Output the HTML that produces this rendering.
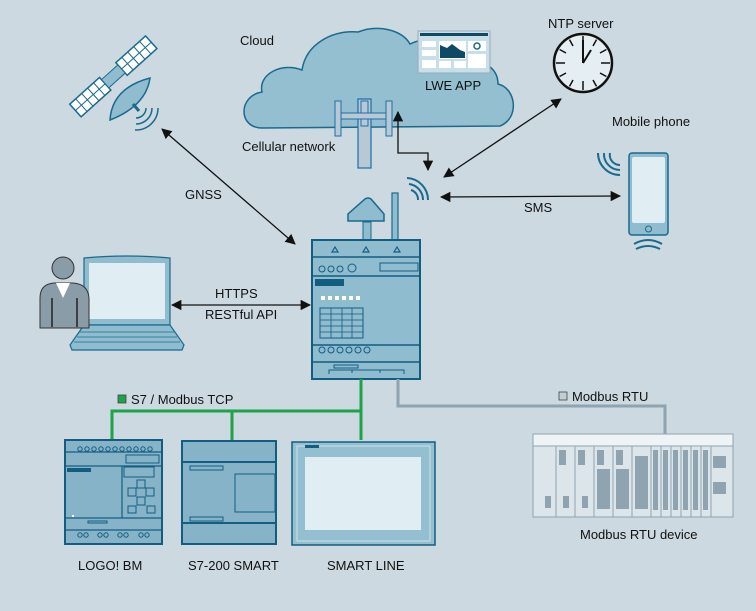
<!DOCTYPE html>
<html><head><meta charset="utf-8"><style>
html,body{margin:0;padding:0;background:#ccd9e0;}
svg{display:block;font-family:"Liberation Sans",sans-serif;}
</style></head><body>
<svg width="756" height="611" viewBox="0 0 756 611" xmlns="http://www.w3.org/2000/svg">
<defs>
<marker id="ah" viewBox="0 0 10 10" refX="9" refY="5" markerWidth="8" markerHeight="8" orient="auto-start-reverse"><path d="M0,0 L10,5 L0,10 z" fill="#111"/></marker>
</defs>
<rect width="756" height="611" fill="#ccd9e0"/>

<!-- Cloud -->
<path d="M262,128 C238,128 238,96 262,92 C258,74 282,62 302,70 C306,44 332,30 358,32 C378,24 402,30 410,44 C430,34 460,40 470,60 C480,60 498,66 498,84 C516,88 520,118 500,126 Z" fill="#93bfd0" stroke="#1a6a8e" stroke-width="1.5"/>
<text x="240" y="45" font-size="13" fill="#111">Cloud</text>
<rect x="418" y="31" width="72" height="42" fill="#c9dfe8" stroke="#9ab" stroke-width="1"/>
<rect x="420" y="33" width="68" height="3" fill="#0e4a66"/>
<rect x="439" y="41" width="27" height="18" fill="#fff"/>
<path d="M440,58 L440,45 L447,48 L452,44 L460,50 L465,52 L465,58 Z" fill="#0e4a66"/>
<rect x="422" y="41" width="14" height="6" fill="#fff"/><rect x="422" y="50" width="14" height="6" fill="#fff"/><rect x="422" y="60" width="14" height="8" fill="#fff"/>
<rect x="468" y="41" width="18" height="10" fill="#fff"/><circle cx="477" cy="46" r="3" fill="none" stroke="#1a6a8e" stroke-width="1.5"/>
<rect x="468" y="54" width="18" height="14" fill="#fff"/>
<rect x="439" y="61" width="12" height="7" fill="#fff"/><rect x="454" y="61" width="12" height="7" fill="#fff"/>
<text x="425" y="90" font-size="13" fill="#111">LWE APP</text>
<rect x="358" y="99" width="13" height="69" fill="#b8c8d4" stroke="#1a6fa8" stroke-width="1.2"/>
<rect x="361" y="101" width="7" height="25" fill="#b8c8d4" stroke="#1a6fa8"/>
<rect x="340" y="113" width="48" height="6" fill="#b8c8d4" stroke="#1a6fa8"/>
<rect x="335" y="101" width="6" height="35" fill="#b8c8d4" stroke="#1a6fa8"/>
<rect x="386" y="101" width="6" height="35" fill="#b8c8d4" stroke="#1a6fa8"/>
<text x="242" y="151" font-size="13" fill="#111">Cellular network</text>
<path d="M398,112 L398,153 L428,153 L428,170" fill="none" stroke="#111" stroke-width="1.3" marker-start="url(#ah)" marker-end="url(#ah)"/>
<g fill="none" stroke="#1a6a8e" stroke-width="2">
<path d="M407,178 A22,22 0 0 1 428,200"/><path d="M409,184 A16,16 0 0 1 423,200"/><path d="M411,190 A10,10 0 0 1 418,200"/>
</g>

<text x="548" y="28" font-size="13" fill="#111">NTP server</text>
<circle cx="583" cy="63" r="29" fill="#e4eef3" stroke="#111" stroke-width="2.5"/>
<g stroke="#111" stroke-width="1.5">
<line x1="583" y1="36" x2="583" y2="45"/><line x1="583" y1="81" x2="583" y2="90"/><line x1="556" y1="63" x2="565" y2="63"/><line x1="601" y1="63" x2="610" y2="63"/>
<line x1="596.5" y1="39.6" x2="593" y2="46"/><line x1="606.4" y1="49.5" x2="600" y2="53"/><line x1="606.4" y1="76.5" x2="600" y2="73"/><line x1="596.5" y1="86.4" x2="593" y2="80"/>
<line x1="569.5" y1="86.4" x2="573" y2="80"/><line x1="559.6" y1="76.5" x2="566" y2="73"/><line x1="559.6" y1="49.5" x2="566" y2="53"/><line x1="569.5" y1="39.6" x2="573" y2="46"/>
</g>
<line x1="583" y1="63" x2="583" y2="40" stroke="#111" stroke-width="2"/>
<line x1="583" y1="63" x2="591" y2="50" stroke="#111" stroke-width="2"/>
<line x1="444" y1="177" x2="561" y2="99" stroke="#111" stroke-width="1.3" marker-start="url(#ah)" marker-end="url(#ah)"/>

<text x="612" y="126" font-size="13" fill="#111">Mobile phone</text>
<rect x="629" y="153" width="39" height="82" rx="3" fill="#8fbccf" stroke="#1a6a8e" stroke-width="1.5"/>
<rect x="632" y="157" width="33" height="66" rx="2" fill="#e0edf2"/>
<circle cx="648.5" cy="229" r="3" fill="none" stroke="#1a6a8e"/>
<g fill="none" stroke="#1a6a8e" stroke-width="2">
<path d="M620,175 A22,22 0 0 1 598,153"/><path d="M620,170 A16,16 0 0 1 604,153"/><path d="M620,165 A10,10 0 0 1 610,153"/>
<path d="M634,244 Q648,236 662,244"/><path d="M636,249 Q648,243 660,249"/>
</g>
<line x1="441" y1="197" x2="620" y2="196" stroke="#111" stroke-width="1.3" marker-start="url(#ah)" marker-end="url(#ah)"/>
<text x="524" y="212" font-size="13" fill="#111">SMS</text>

<!-- Satellite -->
<g transform="rotate(-42 113 76)">
<rect x="62" y="68" width="40" height="17" fill="#fff" stroke="#1a6a8e" stroke-width="1.5"/>
<rect x="124" y="68" width="40" height="17" fill="#fff" stroke="#1a6a8e" stroke-width="1.5"/>
<g stroke="#1a6a8e" stroke-width="1"><line x1="62" y1="76.5" x2="102" y2="76.5"/><line x1="124" y1="76.5" x2="164" y2="76.5"/>
<line x1="70" y1="68" x2="70" y2="85"/><line x1="78" y1="68" x2="78" y2="85"/><line x1="86" y1="68" x2="86" y2="85"/><line x1="94" y1="68" x2="94" y2="85"/>
<line x1="132" y1="68" x2="132" y2="85"/><line x1="140" y1="68" x2="140" y2="85"/><line x1="148" y1="68" x2="148" y2="85"/><line x1="156" y1="68" x2="156" y2="85"/></g>
<rect x="102" y="71" width="22" height="11" fill="#8fbccf" stroke="#1a6a8e"/>
</g>
<path d="M110,120 Q112,88 150,78 Q146,106 110,120 Z" fill="#8fbccf" stroke="#1a6a8e" stroke-width="1.5"/>
<line x1="133" y1="104" x2="139" y2="111" stroke="#1a6a8e" stroke-width="3"/>
<g fill="none" stroke="#1a6a8e" stroke-width="1.5">
<path d="M136,118 A10,10 0 0 0 146,108"/><path d="M136,124 A16,16 0 0 0 152,108"/><path d="M135,130 A22,22 0 0 0 158,108"/>
</g>
<line x1="162" y1="129" x2="295" y2="244" stroke="#111" stroke-width="1.3" marker-start="url(#ah)" marker-end="url(#ah)"/>
<text x="185" y="199" font-size="13" fill="#111">GNSS</text>

<path d="M84,258 Q127,254 170,258 L170,325 L84,325 Z" fill="#8fbccf" stroke="#1a6a8e" stroke-width="1.2"/>
<rect x="89" y="263" width="76" height="56" fill="#e0edf2"/>
<path d="M84,325 L170,325 L184,345 L182,350 L72,350 L70,345 Z" fill="#8fbccf" stroke="#1a6a8e" stroke-width="1.2"/>
<g stroke="#1a6a8e" stroke-width="0.8"><line x1="80" y1="332" x2="174" y2="332"/><line x1="77" y1="337" x2="177" y2="337"/><line x1="74" y1="342" x2="180" y2="342"/></g>
<circle cx="63" cy="268" r="11" fill="#8a9ca8" stroke="#333" stroke-width="1"/>
<path d="M40,328 L40,298 Q40,284 54,283 L73,283 Q88,284 89,298 L89,328 Z" fill="#8a9ca8" stroke="#333" stroke-width="1"/>
<path d="M56,283 L63,298 L70,283 Z" fill="#fff"/>
<g stroke="#222" stroke-width="1.5"><line x1="52" y1="298" x2="52" y2="327"/><line x1="77" y1="298" x2="77" y2="327"/></g>
<line x1="172" y1="305" x2="310" y2="305" stroke="#111" stroke-width="1.3" marker-start="url(#ah)" marker-end="url(#ah)"/>
<text x="215" y="298" font-size="13" fill="#111">HTTPS</text>
<text x="205" y="319" font-size="13" fill="#111">RESTful API</text>

<rect x="392" y="193" width="6" height="47" fill="#8fbccf" stroke="#1a6a8e" stroke-width="1.2"/>
<path d="M348,221 L348,214 L365,199 Q368,197 371,199 L384,214 L384,221 Z" fill="#8fbccf" stroke="#1a6a8e" stroke-width="1.5"/>
<rect x="363" y="222" width="8" height="18" fill="#8fbccf" stroke="#1a6a8e"/>
<rect x="312" y="240" width="108" height="139" fill="#8fbccf" stroke="#135d80" stroke-width="2"/>
<g stroke="#135d80" stroke-width="1.5"><line x1="312" y1="257" x2="420" y2="257"/><line x1="312" y1="276" x2="420" y2="276"/><line x1="312" y1="345" x2="420" y2="345"/><line x1="312" y1="362" x2="420" y2="362"/></g>
<g fill="none" stroke="#135d80" stroke-width="1.2"><path d="M332,252 l3,-5 l3,5 z"/><path d="M363,252 l3,-5 l3,5 z"/><path d="M394,252 l3,-5 l3,5 z"/></g>
<g fill="#8fbccf" stroke="#135d80" stroke-width="1"><circle cx="322" cy="269" r="3"/><circle cx="331" cy="269" r="3"/><circle cx="340" cy="269" r="3"/><circle cx="352" cy="268" r="4"/>
<circle cx="322" cy="350" r="3"/><circle cx="331" cy="350" r="3"/><circle cx="340" cy="350" r="3"/><circle cx="349" cy="350" r="3"/><circle cx="358" cy="350" r="3"/><circle cx="367" cy="350" r="3"/></g>
<rect x="380" y="263" width="38" height="8" fill="none" stroke="#135d80"/>
<rect x="315" y="279" width="29" height="7" fill="#135d80"/>
<g fill="#fff"><rect x="321" y="296" width="4" height="4"/><rect x="328" y="296" width="4" height="4"/><rect x="335" y="296" width="4" height="4"/><rect x="342" y="296" width="4" height="4"/><rect x="349" y="296" width="4" height="4"/><rect x="356" y="296" width="4" height="4"/></g>
<rect x="320" y="308" width="43" height="30" fill="none" stroke="#135d80"/>
<g stroke="#135d80" stroke-width="0.8"><line x1="331" y1="308" x2="331" y2="338"/><line x1="342" y1="308" x2="342" y2="338"/><line x1="352" y1="308" x2="352" y2="338"/>
<line x1="320" y1="314" x2="363" y2="314"/><line x1="320" y1="320" x2="363" y2="320"/><line x1="320" y1="326" x2="363" y2="326"/><line x1="320" y1="332" x2="363" y2="332"/></g>
<rect x="334" y="365" width="24" height="3" fill="none" stroke="#135d80"/>
<path d="M329,374 L329,370 L404,370 L404,374 M352,370 L352,373 M380,370 L380,373" fill="none" stroke="#135d80"/>

<path d="M361,379 L361,440 M112,440 L112,411 L361,411 M232,411 L232,440" fill="none" stroke="#1ea34a" stroke-width="3"/>
<rect x="118" y="395" width="8" height="8" fill="#1ea34a" stroke="#444" stroke-width="0.8"/>
<text x="131" y="404" font-size="13" fill="#111">S7 / Modbus TCP</text>
<path d="M398,379 L398,406 L665,406 L665,434" fill="none" stroke="#8fa4b0" stroke-width="3"/>
<rect x="559" y="392" width="8" height="8" fill="#bfcdd5" stroke="#444" stroke-width="0.8"/>
<text x="572" y="401" font-size="13" fill="#111">Modbus RTU</text>

<rect x="533" y="434" width="200" height="83" fill="#dbe5ea" stroke="#8fa4b0" stroke-width="1"/>
<rect x="533" y="434" width="200" height="12" fill="#eef3f5" stroke="#8fa4b0"/>
<g stroke="#8fa4b0" stroke-width="1"><line x1="556" y1="446" x2="556" y2="517"/><line x1="575" y1="446" x2="575" y2="517"/><line x1="594" y1="446" x2="594" y2="517"/><line x1="613" y1="446" x2="613" y2="517"/><line x1="632" y1="446" x2="632" y2="517"/><line x1="651" y1="446" x2="651" y2="517"/><line x1="661" y1="446" x2="661" y2="517"/><line x1="671" y1="446" x2="671" y2="517"/><line x1="681" y1="446" x2="681" y2="517"/><line x1="691" y1="446" x2="691" y2="517"/><line x1="701" y1="446" x2="701" y2="517"/><line x1="711" y1="446" x2="711" y2="517"/></g>
<g fill="#8fa4b0">
<rect x="545" y="496" width="6" height="12"/><rect x="563" y="496" width="6" height="12"/><rect x="582" y="496" width="6" height="12"/>
<rect x="559" y="450" width="7" height="15"/><rect x="578" y="450" width="7" height="15"/><rect x="597" y="450" width="7" height="15"/><rect x="616" y="450" width="7" height="15"/>
<rect x="597" y="469" width="13" height="40"/><rect x="616" y="469" width="13" height="40"/><rect x="635" y="456" width="13" height="53"/>
<rect x="653" y="450" width="5" height="60"/><rect x="663" y="450" width="5" height="60"/><rect x="673" y="450" width="5" height="60"/><rect x="683" y="450" width="5" height="60"/><rect x="693" y="450" width="5" height="60"/><rect x="703" y="450" width="5" height="60"/>
<rect x="713" y="456" width="13" height="12"/><rect x="713" y="482" width="13" height="12"/>
</g>
<text x="580" y="539" font-size="13" fill="#111">Modbus RTU device</text>

<rect x="65" y="440" width="97" height="104" fill="#87b3c9" stroke="#135d80" stroke-width="2"/>
<g stroke="#135d80" stroke-width="1.2"><line x1="65" y1="452" x2="162" y2="452"/><line x1="65" y1="466" x2="162" y2="466"/><line x1="65" y1="518" x2="162" y2="518"/><line x1="65" y1="530" x2="162" y2="530"/><line x1="122" y1="466" x2="122" y2="518"/></g>
<rect x="126" y="455" width="33" height="8" fill="none" stroke="#135d80"/>
<rect x="67" y="468" width="24" height="4" fill="#135d80"/>
<rect x="124" y="467" width="30" height="10" fill="none" stroke="#135d80"/>
<g fill="#87b3c9" stroke="#135d80"><rect x="137" y="480" width="8" height="8"/><rect x="128" y="488" width="8" height="8"/><rect x="146" y="488" width="8" height="8"/><rect x="137" y="497" width="8" height="8"/><rect x="128" y="506" width="8" height="7"/><rect x="147" y="506" width="8" height="7"/></g>
<rect x="88" y="521" width="19" height="2" fill="none" stroke="#135d80"/>
<rect x="72" y="515" width="2" height="2" fill="#fff"/>
<g fill="none" stroke="#135d80"><circle cx="80" cy="449" r="2.2"/><circle cx="87" cy="449" r="2.2"/><circle cx="94" cy="449" r="2.2"/><circle cx="101" cy="449" r="2.2"/><circle cx="108" cy="449" r="2.2"/><circle cx="115" cy="449" r="2.2"/><circle cx="122" cy="449" r="2.2"/><circle cx="129" cy="449" r="2.2"/><circle cx="136" cy="449" r="2.2"/><circle cx="143" cy="449" r="2.2"/><circle cx="150" cy="449" r="2.2"/>
<circle cx="80" cy="535" r="2.2"/><circle cx="86" cy="535" r="2.2"/><circle cx="100" cy="535" r="2.2"/><circle cx="106" cy="535" r="2.2"/><circle cx="120" cy="535" r="2.2"/><circle cx="126" cy="535" r="2.2"/><circle cx="141" cy="535" r="2.2"/><circle cx="147" cy="535" r="2.2"/></g>
<text x="78" y="570" font-size="13" fill="#111">LOGO! BM</text>

<rect x="182" y="441" width="94" height="103" fill="#87b3c9" stroke="#135d80" stroke-width="2"/>
<g stroke="#135d80" stroke-width="2"><line x1="182" y1="462" x2="276" y2="462"/><line x1="182" y1="523" x2="276" y2="523"/></g>
<rect x="190" y="466" width="33" height="4" fill="none" stroke="#135d80"/>
<rect x="190" y="517" width="33" height="4" fill="none" stroke="#135d80"/>
<rect x="235" y="474" width="40" height="38" fill="none" stroke="#135d80"/>
<text x="188" y="570" font-size="13" fill="#111">S7-200 SMART</text>

<rect x="292" y="442" width="143" height="103" fill="#93bfd0" stroke="#135d80" stroke-width="1.5"/>
<rect x="297" y="446" width="133" height="95" fill="none" stroke="#cde0e8" stroke-width="1"/>
<rect x="305" y="457" width="116" height="73" fill="#e0edf2"/>
<rect x="305" y="445" width="14" height="3" fill="#135d80"/>
<text x="327" y="570" font-size="13" fill="#111">SMART LINE</text>
</svg>
</body></html>
